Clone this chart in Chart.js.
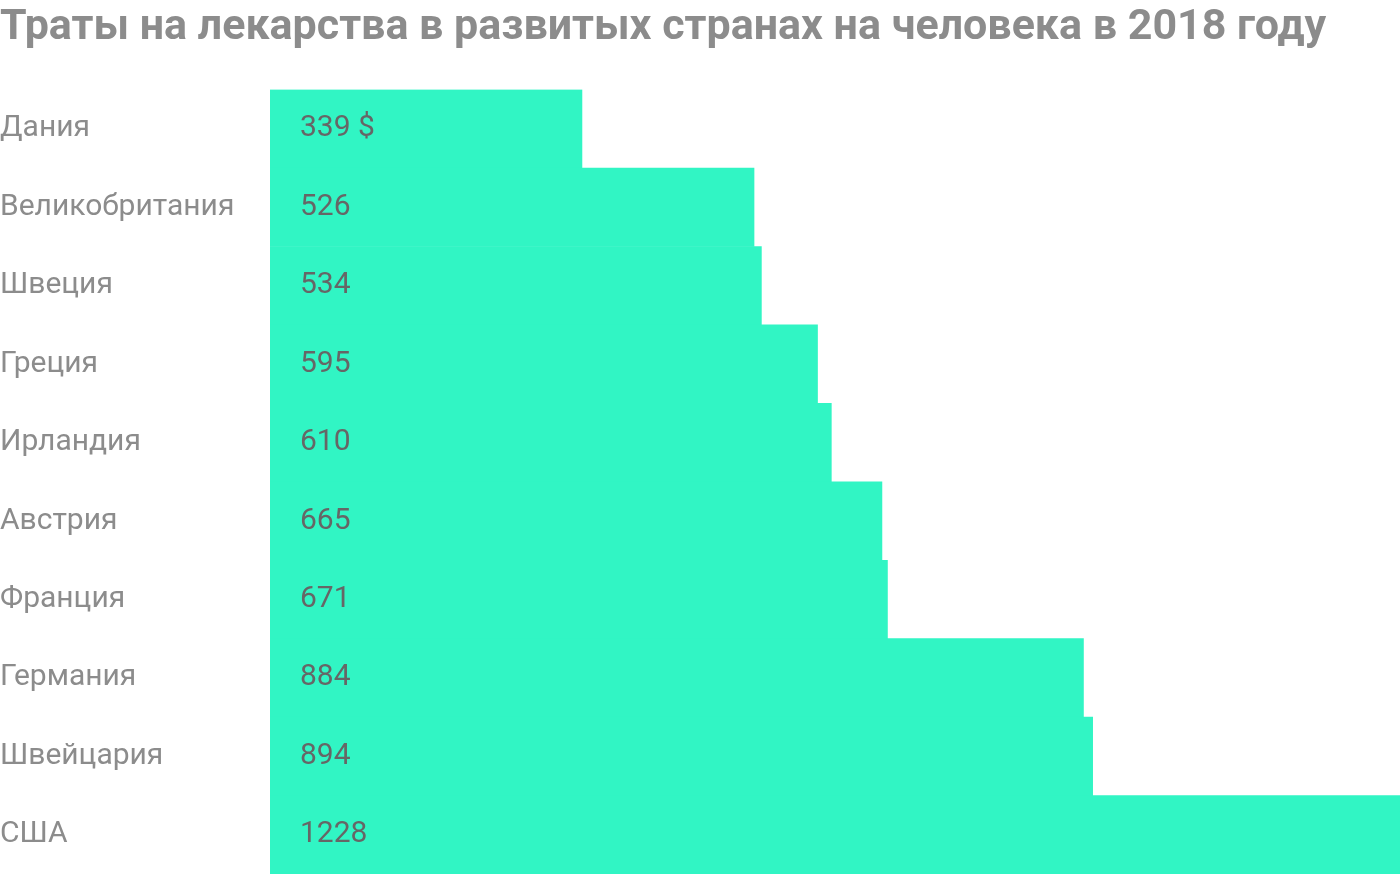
<!DOCTYPE html>
<html><head><meta charset="utf-8">
<script src="https://cdn.jsdelivr.net/npm/chart.js@4"></script>
<style>html,body{margin:0;padding:0;background:#fff;overflow:hidden}canvas{display:block}</style>
</head><body><canvas id="c" width="1400" height="892" style="width:1400px;height:892px"></canvas>
<script>
const categories = ["Дания","Великобритания","Швеция","Греция","Ирландия","Австрия","Франция","Германия","Швейцария","США"];
const values = [339,526,534,595,610,665,671,884,894,1228];
const valueLabels = ["339 $","526","534","595","610","665","671","884","894","1228"];
const titleText = "Траты на лекарства в развитых странах на человека в 2018 году";

const valuePlugin = {
  id:'vals',
  afterDatasetsDraw(chart){
    const ctx = chart.ctx, meta = chart.getDatasetMeta(0);
    ctx.save();
    ctx.font = '30px Roboto';
    ctx.fillStyle = '#666';
    ctx.textBaseline = 'middle';
    meta.data.forEach((b,i)=>{ ctx.fillText(valueLabels[i], chart.chartArea.left+30, b.y); });
    ctx.restore();
  }
};
new Chart(document.getElementById('c'), {
  type:'bar',
  data:{labels:categories, datasets:[{data:values, backgroundColor:'#31f5c4', barPercentage:1, categoryPercentage:1}]},
  options:{
    indexAxis:'y', responsive:false, animation:false, devicePixelRatio:1,
    layout:{padding:{left:0,right:0,top:0,bottom:2}},
    plugins:{legend:{display:false}, tooltip:{enabled:false},
      title:{display:true, text:titleText, align:'start', color:'#8c8c8c',
        font:{family:'Roboto', size:43, weight:'bold', lineHeight:1.2}, padding:{top:2,bottom:36}}},
    scales:{
      x:{display:false, min:0, max:1228},
      y:{grid:{display:false}, border:{display:false},
        ticks:{crossAlign:'far', color:'#8c8c8c', font:{family:'Roboto', size:30}, padding:0},
        afterFit(s){ s.width = 270; }}
    }
  },
  plugins:[valuePlugin]
});
</script></body></html>
